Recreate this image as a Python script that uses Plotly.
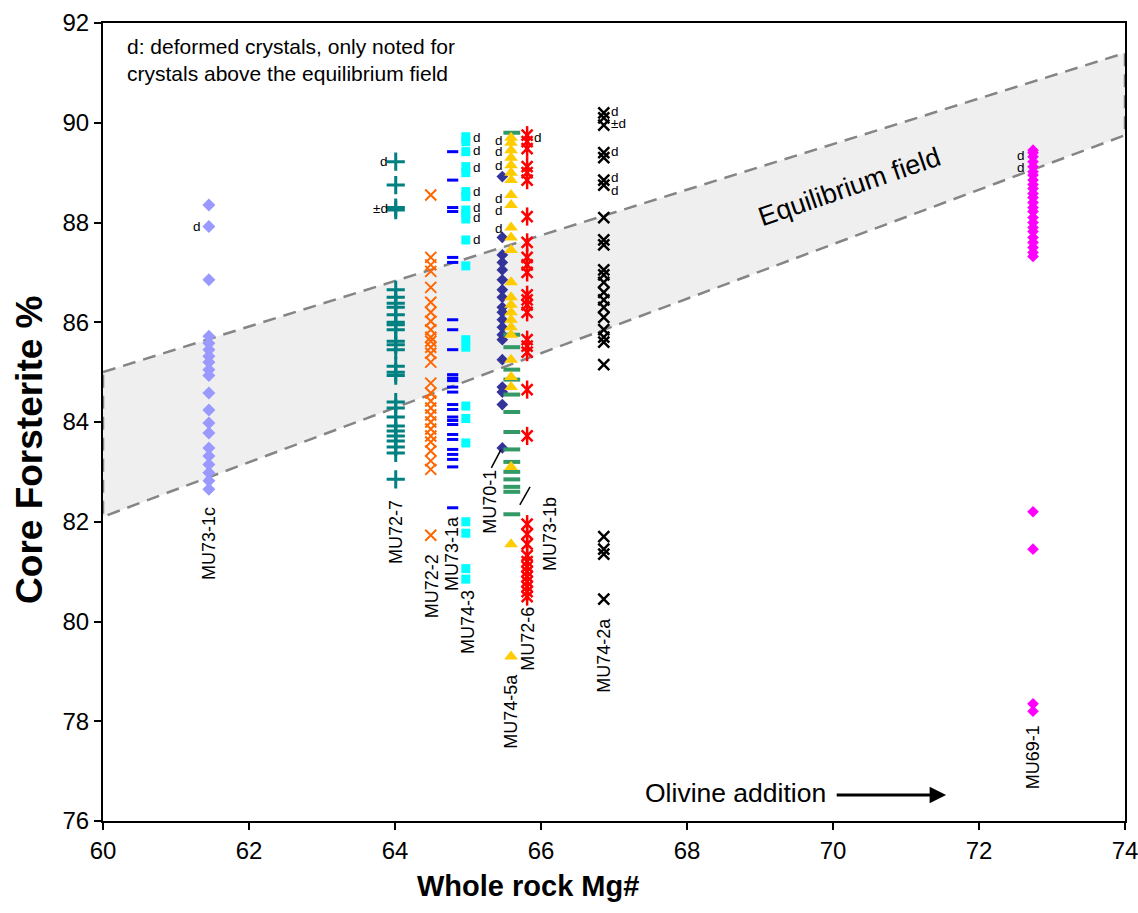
import plotly.graph_objects as go

# ---- Whole-rock Mg# of each sample and core forsterite of its olivines ----
mu73_1c_x = 61.45
mu73_1c_fo = [88.35, 87.92, 86.85, 85.72, 85.58, 85.45, 85.32, 85.2, 85.05, 84.93,
              84.58, 84.24, 83.98, 83.78, 83.48, 83.32, 83.15, 82.98, 82.82, 82.65]

mu72_7_x = 64.01
mu72_7_fo = [89.22, 88.75, 88.3, 88.25, 86.65, 86.5, 86.38, 86.3, 86.15, 86.0, 85.95,
             85.85, 85.62, 85.55, 85.45, 85.12, 85.0, 84.93, 84.4, 84.28, 84.1, 83.92,
             83.82, 83.72, 83.62, 83.5, 83.38, 82.85]

mu72_2_x = 64.49
mu72_2_fo = [88.55, 87.3, 87.15, 87.02, 86.7, 86.4, 86.2, 86.02, 85.85, 85.7, 85.62,
             85.5, 85.38, 85.2, 84.78, 84.58, 84.42, 84.28, 84.14, 84.0, 83.86, 83.72,
             83.6, 83.42, 83.22, 83.05, 81.73]

mu73_1a_x = 64.79
mu73_1a_fo = [89.42, 88.85, 88.3, 88.22, 87.3, 87.2, 86.05, 85.85, 85.45, 84.95,
              84.88, 84.83, 84.7, 84.6, 84.35, 84.25, 84.1, 84.03, 83.95, 83.75,
              83.65, 83.45, 83.35, 83.25, 83.1, 82.28]

mu74_3_x = 64.97
mu74_3_fo = [89.72, 89.62, 89.42, 89.12, 89.0, 88.62, 88.52, 88.25, 88.18, 88.07,
             87.65, 87.13, 85.65, 85.5, 84.32, 84.07, 83.58, 82.0, 81.77, 81.06, 80.85]

mu70_1_x = 65.47
mu70_1_fo = [88.92, 87.7, 87.35, 87.2, 87.05, 86.85, 86.65, 86.5, 86.3, 86.2, 86.05,
             85.9, 85.75, 85.65, 85.25, 84.7, 84.6, 84.35, 83.48]

mu74_5a_x = 65.59
mu74_5a_fo = [89.7, 89.6, 89.45, 89.3, 89.15, 89.0, 88.85, 88.55, 88.35, 87.9, 87.7,
              87.45, 86.8, 86.5, 86.35, 86.2, 86.05, 85.9, 85.75, 85.25, 84.9, 84.7,
              83.1, 81.55, 79.3]

mu73_1b_x = 65.6
mu73_1b_fo = [89.8, 85.75, 85.5, 85.05, 84.85, 84.55, 84.2, 83.8, 83.45, 83.2, 83.0,
              82.85, 82.7, 82.6, 82.15]

mu72_6_x = 65.81
mu72_6_fo = [89.75, 89.62, 89.48, 89.12, 89.0, 88.85, 88.12, 87.6, 87.3, 87.15, 87.0,
             86.55, 86.45, 86.35, 86.2, 85.65, 85.52, 85.4, 84.65, 83.72, 81.95, 81.75,
             81.55, 81.32, 81.2, 81.1, 81.0, 80.9, 80.8, 80.7, 80.6, 80.5]

mu74_2a_x = 66.86
mu74_2a_fo = [90.2, 90.1, 89.95, 89.4, 89.3, 88.85, 88.75, 88.1, 87.65, 87.55, 87.05,
              86.95, 86.8, 86.6, 86.45, 86.3, 86.1, 85.85, 85.7, 85.6, 85.15, 81.7,
              81.45, 81.35, 80.45]

mu69_1_x = 72.74
mu69_1_fo = [89.45, 89.4, 89.32, 89.22, 89.12, 89.02, 88.95, 88.85, 88.76, 88.68,
             88.58, 88.5, 88.4, 88.3, 88.22, 88.1, 88.0, 87.9, 87.82, 87.7, 87.6,
             87.5, 87.4, 87.32, 82.2, 81.45, 78.35, 78.2]

# Equilibrium field (upper and lower bounds along whole-rock Mg#)
field_x = [60, 74]
field_upper = [85.0, 91.4]
field_lower = [82.1, 89.75]

# Deformed-crystal flags: (Mg#, Fo, text, side)
d_flags = [
    (mu73_1c_x, 87.92, "d", "left"),
    (mu72_7_x, 89.22, "d", "left"),
    (mu72_7_x, 88.28, "±d", "left"),
    (mu74_3_x, 89.7, "d", "right"),
    (mu74_3_x, 89.45, "d", "right"),
    (mu74_3_x, 89.1, "d", "right"),
    (mu74_3_x, 88.62, "d", "right"),
    (mu74_3_x, 88.3, "d", "right"),
    (mu74_3_x, 88.1, "d", "right"),
    (mu74_3_x, 87.65, "d", "right"),
    (mu74_5a_x, 89.65, "d", "left"),
    (mu74_5a_x, 89.42, "d", "left"),
    (mu74_5a_x, 89.15, "d", "left"),
    (mu74_5a_x, 88.48, "d", "left"),
    (mu74_5a_x, 88.24, "d", "left"),
    (mu74_5a_x, 87.88, "d", "left"),
    (mu72_6_x, 89.7, "d", "right"),
    (mu74_2a_x, 90.22, "d", "right"),
    (mu74_2a_x, 89.99, "±d", "right"),
    (mu74_2a_x, 89.42, "d", "right"),
    (mu74_2a_x, 88.9, "d", "right"),
    (mu74_2a_x, 88.65, "d", "right"),
    (mu69_1_x, 89.35, "d", "left"),
    (mu69_1_x, 89.1, "d", "left"),
]

# Sample name labels: (name, Mg#, Fo at label centre)
sample_labels = [
    ("MU73-1c", 61.45, 81.57),
    ("MU72-7", 64.01, 81.79),
    ("MU72-2", 64.51, 80.71),
    ("MU73-1a", 64.78, 81.37),
    ("MU74-3", 65.0, 79.99),
    ("MU70-1", 65.30, 82.40),
    ("MU73-1b", 66.12, 81.75),
    ("MU74-5a", 65.59, 78.19),
    ("MU72-6", 65.82, 79.65),
    ("MU74-2a", 66.86, 79.33),
    ("MU69-1", 72.74, 77.28),
]

FONT = "Liberation Sans, Arial, sans-serif"

fig = go.Figure()

# shaded equilibrium field with dashed outline
fig.add_trace(go.Scatter(
    x=[field_x[0], field_x[1], field_x[1], field_x[0], field_x[0]],
    y=[field_upper[0], field_upper[1], field_lower[1], field_lower[0], field_upper[0]],
    mode="lines", fill="toself", fillcolor="#efefef",
    line=dict(color="#858585", width=2.5, dash="13px,8px"),
    hoverinfo="skip", showlegend=False,
))


def add_sample(x, fo, symbol, color, size, width=0):
    fig.add_trace(go.Scatter(
        x=[x] * len(fo), y=fo, mode="markers", showlegend=False,
        marker=dict(symbol=symbol, size=size, color=color,
                    line=dict(color=color, width=width)),
    ))


add_sample(mu73_1c_x, mu73_1c_fo, "diamond", "#9999ff", 10)
add_sample(mu72_7_x, mu72_7_fo, "cross-thin-open", "#008080", 13, 3)
add_sample(mu72_2_x, mu72_2_fo, "x-thin-open", "#ff6600", 11, 2)
add_sample(mu73_1a_x, mu73_1a_fo, "line-ew-open", "#0000ff", 8, 3)
add_sample(mu74_3_x, mu74_3_fo, "square", "#00ffff", 9)
add_sample(mu70_1_x, mu70_1_fo, "diamond", "#333399", 9)
add_sample(mu73_1b_x, mu73_1b_fo, "line-ew-open", "#339966", 12, 4)
add_sample(mu74_5a_x, mu74_5a_fo, "triangle-up", "#ffcc00", 12)
add_sample(mu72_6_x, mu72_6_fo, "x-thin-open", "#ff0000", 11, 2.5)
add_sample(mu72_6_x, mu72_6_fo, "line-ns-open", "#ff0000", 13, 2.5)
add_sample(mu74_2a_x, mu74_2a_fo, "x-thin-open", "#000000", 11, 2.5)
add_sample(mu69_1_x, mu69_1_fo, "diamond", "#ff00ff", 9)

annotations = []

for x, y, txt, side in d_flags:
    annotations.append(dict(
        x=x, y=y, text=txt, showarrow=False,
        xanchor="right" if side == "left" else "left",
        xshift=-7 if side == "left" else 6,
        borderpad=0,
        font=dict(family=FONT, size=13.5, color="black"),
    ))

for name, x, y in sample_labels:
    annotations.append(dict(
        x=x, y=y, text=name, showarrow=False, textangle=-90,
        font=dict(family=FONT, size=18, color="black"),
    ))

# leader lines to the labelled points
fig.add_shape(type="line", x0=65.32, y0=83.08, x1=65.45, y1=83.44,
              line=dict(color="black", width=1.5))
fig.add_shape(type="line", x0=65.71, y0=82.34, x1=65.85, y1=82.70,
              line=dict(color="black", width=1.5))

# equilibrium field label
annotations.append(dict(
    x=70.22, y=88.72, text="Equilibrium field", showarrow=False, textangle=-19,
    font=dict(family=FONT, size=27, color="black"),
))

# note on deformed crystals
annotations.append(dict(
    xref="paper", yref="paper", x=0.0215, y=0.971,
    text="d: deformed crystals, only noted for", showarrow=False,
    xanchor="left", yanchor="middle",
    font=dict(family=FONT, size=21, color="black"),
))
annotations.append(dict(
    xref="paper", yref="paper", x=0.0215, y=0.937,
    text="crystals above the equilibrium field", showarrow=False,
    xanchor="left", yanchor="middle",
    font=dict(family=FONT, size=21, color="black"),
))

# olivine addition arrow
annotations.append(dict(
    x=68.66, y=76.56, text="Olivine addition", showarrow=False,
    font=dict(family=FONT, size=26.5, color="black"),
))
annotations.append(dict(
    x=71.55, y=76.52, ax=70.03, ay=76.52, axref="x", ayref="y",
    text="", showarrow=True, arrowhead=2, arrowsize=1.1, arrowwidth=3,
    arrowcolor="black",
))

# axis titles
annotations.append(dict(
    xref="paper", yref="paper", x=0.416, y=0, yshift=-65,
    text="<b>Whole rock Mg#</b>", showarrow=False, yanchor="middle",
    font=dict(family=FONT, size=29, color="black"),
))
annotations.append(dict(
    xref="paper", yref="paper", x=0, y=0.465, xshift=-73,
    text="<b>Core Forsterite %</b>", showarrow=False, textangle=-90,
    xanchor="center",
    font=dict(family=FONT, size=37, color="black"),
))

fig.update_layout(
    width=1138, height=913,
    margin=dict(l=103, r=13, t=23, b=92),
    paper_bgcolor="white", plot_bgcolor="white",
    showlegend=False,
    annotations=annotations,
    font=dict(family=FONT, color="black"),
)

axis_style = dict(
    dtick=2, showgrid=False, zeroline=False,
    showline=True, linecolor="black", linewidth=2, mirror=True,
    ticks="outside", ticklen=7, tickwidth=1.5, tickcolor="black",
    tickfont=dict(family=FONT, size=24, color="black"),
    automargin=False, ticklabeloverflow="allow",
)
fig.update_xaxes(range=[60, 74], tick0=60, **axis_style)
fig.update_yaxes(range=[76, 92], tick0=76, **axis_style)

fig.write_html("out.html")
